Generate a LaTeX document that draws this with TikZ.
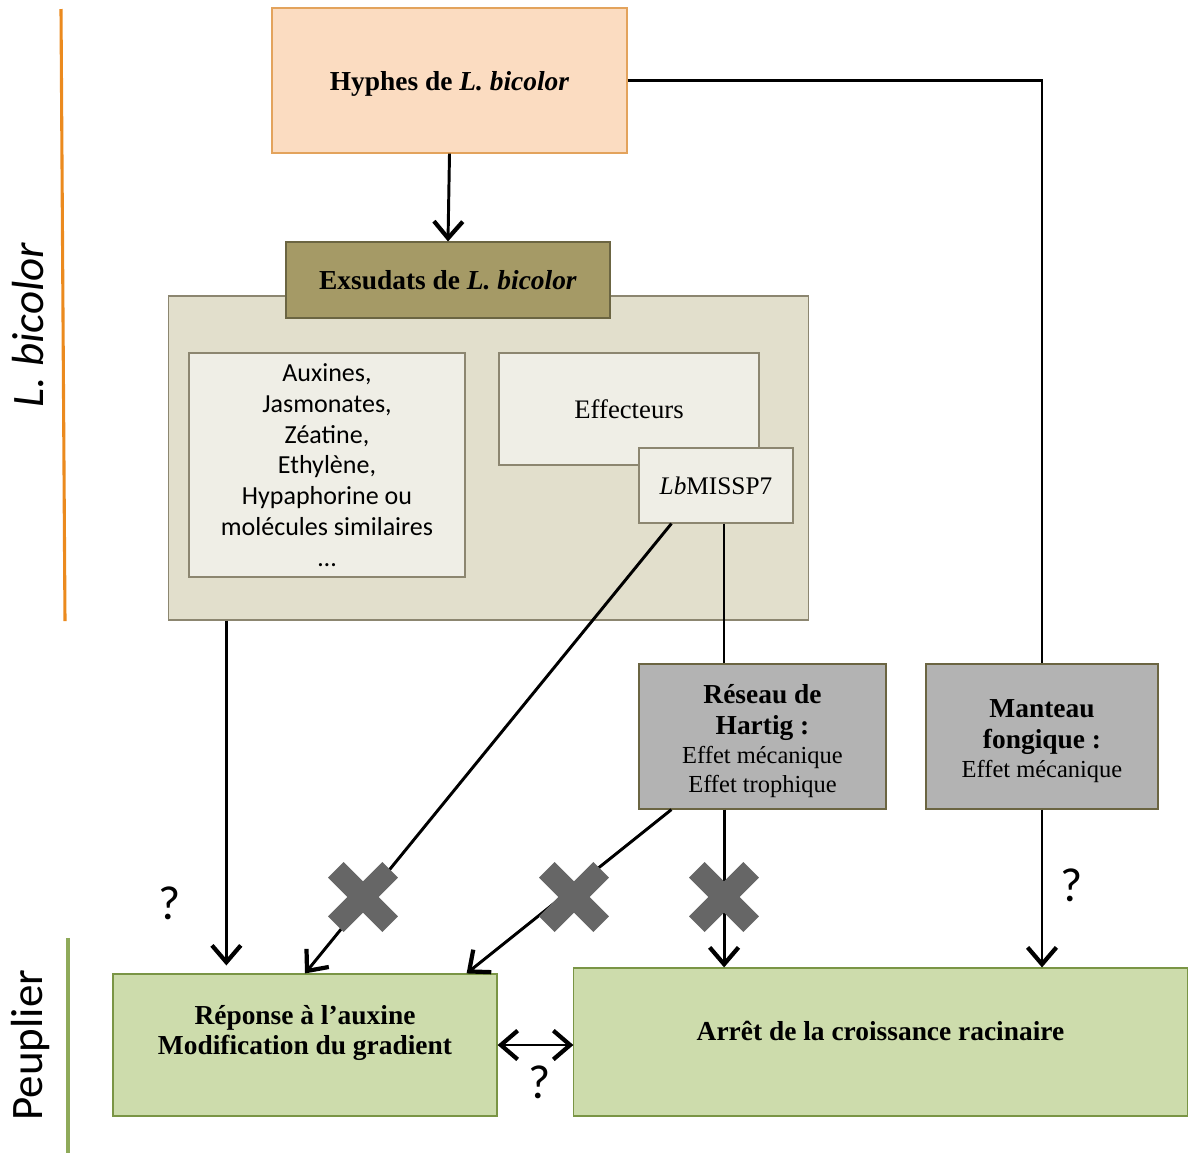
\documentclass[tikz,border=0pt]{standalone}
\usepackage{fontspec}
\setmainfont{Liberation Serif}
\newfontfamily\calibri{Carlito}
\usetikzlibrary{arrows.meta,shapes.misc}
\definecolor{peach}{HTML}{FBDCC1}
\definecolor{peachline}{HTML}{E3A35C}
\definecolor{khaki}{HTML}{A59A66}
\definecolor{khakiline}{HTML}{6B6542}
\definecolor{sand}{HTML}{E2DFCC}
\definecolor{sandline}{HTML}{8C8670}
\definecolor{paper}{HTML}{EFEEE6}
\definecolor{stone}{HTML}{B3B3B3}
\definecolor{leaf}{HTML}{CDDCAC}
\definecolor{leafline}{HTML}{7A9545}
\definecolor{fungus}{HTML}{EB8A1E}
\definecolor{poplar}{HTML}{8FAA5A}
\definecolor{block}{HTML}{666666}
\newcommand\titre[1]{{\fontsize{19.5}{23}\selectfont\bfseries #1}}

\begin{document}
\begin{tikzpicture}[x=0.025cm,y=-0.025cm,
  every node/.style={font=\fontsize{17.4}{20.5}\selectfont},
  box/.style={draw,line width=0.8pt,inner sep=0pt,align=center,text depth=0pt},
  >={Straight Barb[length=0.42cm,width=0.72cm,line width=3pt]},
  link/.style={line width=2.1pt},
  nope/.style={cross out,draw=block,line width=0.55cm,minimum size=1.36cm,inner sep=0pt,outer sep=0pt},
  query/.style={font=\calibri\fontsize{34}{34}\selectfont}]
\useasboundingbox (0,0) rectangle (1188,1153);
\draw[fungus,line width=2.2pt] (61,9) -- (65,621);
\draw[poplar,line width=2.2pt] (68,938) -- (68,1153);
\node[rotate=90,font=\calibri\itshape\fontsize{32}{36}\selectfont] (lbicolor) at (28,325) {L. bicolor};
\node[rotate=90,font=\calibri\fontsize{32}{36}\selectfont] (peuplier) at (31,1045) {Peuplier};

\node[box,draw=peachline,fill=peach,minimum width=8.875cm,minimum height=3.625cm] (hyphes) at (449.5,80.5) {\titre{Hyphes de \textit{L. bicolor}}};
\node[box,draw=sandline,fill=sand,minimum width=15.975cm,minimum height=8.1cm] (exsudats) at (488.5,458) {};
\node[box,draw=khakiline,fill=khaki,minimum width=8.1cm,minimum height=1.9cm] (extitre) at (448,280) {\titre{Exsudats de \textit{L. bicolor}}};
\node[box,draw=sandline,fill=paper,minimum width=6.9cm,minimum height=5.6cm,font=\calibri\fontsize{18.5}{22}\selectfont] (hormones) at (327,465) {Auxines,\\Jasmonates,\\Zéatine,\\Ethylène,\\Hypaphorine ou\\molécules similaires\\…};
\node[box,draw=sandline,fill=paper,minimum width=6.5cm,minimum height=2.8cm,font=\fontsize{19}{22}\selectfont] (effecteurs) at (629,409) {Effecteurs};
\node[box,draw=sandline,fill=paper,minimum width=3.85cm,minimum height=1.875cm,font=\fontsize{18}{22}\selectfont] (missp) at (716,485.5) {\textit{Lb}MISSP7};

% boites du champignon et de la plante
\node[box,draw=khakiline,fill=stone,minimum width=6.175cm,minimum height=3.625cm] (hartig) at (762.5,736.5) {};
\node[align=center] (hartigtxt) at (762.5,741) {\titre{Réseau de}\\[2pt]\titre{Hartig :}\\Effet mécanique\\Effet trophique};
\node[box,draw=khakiline,fill=stone,minimum width=5.8cm,minimum height=3.625cm] (manteau) at (1042,736.5) {};
\node[align=center] (manteautxt) at (1042,741) {\titre{Manteau}\\[2pt]\titre{fongique :}\\Effet mécanique};
\node[box,draw=leafline,fill=leaf,minimum width=9.6cm,minimum height=3.55cm] (auxine) at (305,1045) {};
\node[align=center] (auxinetxt) at (305,1033) {\titre{Réponse à l’auxine}\\[1pt]\titre{Modification du gradient}};
\node[box,draw=leafline,fill=leaf,minimum width=15.325cm,minimum height=3.7cm] (arret) at (880.5,1042) {};
\node (arrettxt) at (880.5,1031) {\titre{Arrêt de la croissance racinaire}};

\draw[link,->] (hyphes.south) -- (extitre.north);
\draw[link] (hyphes.east) -| (manteau.north);
\draw[link,->] (manteau.south) -- (manteau.south |- arret.north);
\draw[link,->,shorten >=0.2cm] ([xshift=1.45cm]exsudats.south west) -- ([xshift=1.45cm]exsudats.south west |- auxine.north);
\draw[link,->] ([xshift=0.825cm]missp.south west) -- (auxine.north);
\draw[link] ([xshift=0.2cm]missp.south) -- ([xshift=0.2cm]missp.south |- hartig.north);
\draw[link,->] ([xshift=-0.96cm]hartig.south) -- ([xshift=-0.96cm]hartig.south |- arret.north);
\draw[link,->] ([xshift=0.825cm]hartig.south west) -- ([xshift=-0.775cm]auxine.north east);
\draw[link,<->] (auxine.east) -- (auxine.east -| arret.west);

\foreach \n/\x in {a/363,b/574,c/724}
  \node[nope] (croix\n) at (\x,897) {};

\node[query] (q1) at (170,903) {?};
\node[query] (q2) at (1072,885) {?};
\node[query] (q3) at (540,1082) {?};
\end{tikzpicture}
\end{document}
